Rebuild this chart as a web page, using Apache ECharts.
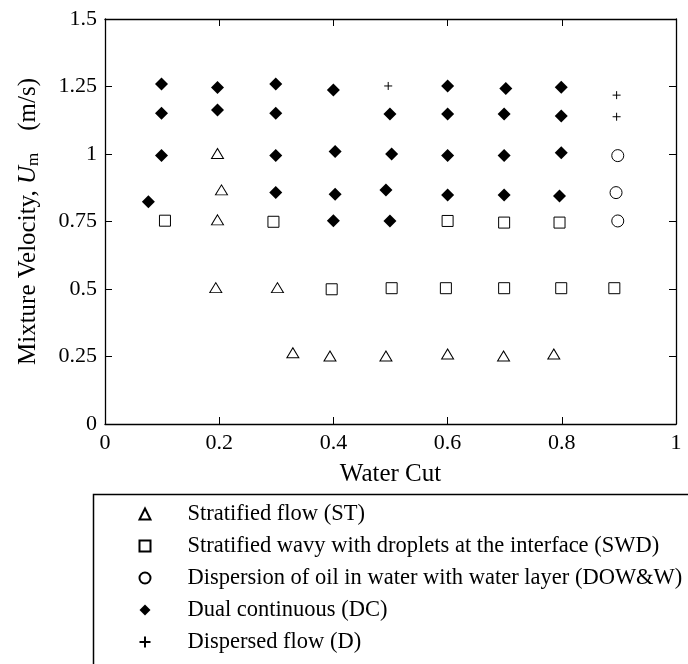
<!DOCTYPE html>
<html>
<head>
<meta charset="utf-8">
<title>Flow patterns vs water cut</title>
<script src="https://cdn.jsdelivr.net/npm/echarts@6/dist/echarts.min.js"></script>
<style>
  html, body { margin: 0; padding: 0; background: #fff; }
  #chart { width: 688px; height: 664px; }
</style>
</head>
<body>
<div id="chart"></div>
<script>
// ---------------- data ----------------
// each point: [water cut, mixture velocity (m/s)]

const stPoints = [ // Stratified flow
    [0.197, 1.002], [0.204, 0.867], [0.197, 0.756], [0.194, 0.505], [0.302, 0.505],
    [0.329, 0.264], [0.394, 0.252], [0.492, 0.252], [0.600, 0.259], [0.698, 0.252], [0.786, 0.259],
];

const swdPoints = [ // Stratified wavy with droplets
    [0.105, 0.753], [0.295, 0.749], [0.600, 0.752], [0.699, 0.746], [0.796, 0.746],
    [0.397, 0.499], [0.502, 0.503], [0.597, 0.503], [0.699, 0.503], [0.799, 0.503], [0.892, 0.503],
];

const dowwPoints = [ // Dispersion of oil in water with water layer
    [0.898, 0.994], [0.895, 0.857], [0.898, 0.752],
];

const dcPoints = [ // Dual continuous
    [0.099, 1.259], [0.197, 1.246], [0.299, 1.259], [0.400, 1.237], [0.600, 1.252], [0.702, 1.243], [0.799, 1.247],
    [0.099, 1.151], [0.197, 1.163], [0.299, 1.151], [0.499, 1.148], [0.600, 1.148], [0.699, 1.148], [0.799, 1.141],
    [0.099, 0.994], [0.299, 0.994], [0.403, 1.009], [0.502, 1.000], [0.600, 0.994], [0.699, 0.994], [0.799, 1.005],
    [0.076, 0.823], [0.299, 0.857], [0.403, 0.851], [0.492, 0.867], [0.600, 0.848], [0.699, 0.848], [0.796, 0.844],
    [0.400, 0.753], [0.499, 0.752],
];

const dPoints = [ // Dispersed flow
    [0.496, 1.252], [0.896, 1.218], [0.896, 1.138],
];

const seriesNames = [
    "Stratified flow (ST)",
    "Stratified wavy with droplets at the interface (SWD)",
    "Dispersion of oil in water with water layer (DOW&W)",
    "Dual continuous (DC)",
    "Dispersed flow (D)",
];

const xTicks = [0, 0.2, 0.4, 0.6, 0.8, 1];
const yTicks = [0, 0.25, 0.5, 0.75, 1, 1.25, 1.5];

// ---------------- styling ----------------

const FONT = "Liberation Serif";
const PLUS = "path://M0,5L10,5M5,0L5,10";

const openStyle = { color: "#fff", borderColor: "#000", borderWidth: 1, opacity: 1 };

function baseAxis(extra) {
    return Object.assign({
        axisLine: { show: true, onZero: false, lineStyle: { color: "#000", width: 1.3 } },
        axisTick: { show: true, inside: true, length: 7, lineStyle: { color: "#000", width: 1 } },
        splitLine: { show: false },
        axisLabel: { show: false },
    }, extra);
}

const tickLabel = {
    show: true, margin: 8, fontFamily: FONT, fontSize: 22, color: "#000",
    formatter: (v) => String(+v.toFixed(2)),
};

const chart = echarts.init(document.getElementById("chart"), null, { renderer: "canvas" });

chart.setOption({
    animation: false,
    backgroundColor: "#fff",
    textStyle: { fontFamily: FONT, color: "#000" },
    grid: { left: 105, right: 12, top: 19, bottom: 240, containLabel: false },

    xAxis: [
        baseAxis({
            type: "value",
            position: "bottom",
            min: xTicks[0],
            max: xTicks[xTicks.length - 1],
            interval: 0.2,
            name: "Water Cut",
            nameLocation: "middle",
            nameGap: 38,
            nameTextStyle: { fontFamily: FONT, fontSize: 25, color: "#000" },
            axisLabel: tickLabel,
        }),
        baseAxis({
            type: "value", position: "top",
            min: xTicks[0], max: xTicks[xTicks.length - 1], interval: 0.2,
        }),
    ],

    yAxis: [
        baseAxis({
            type: "value",
            position: "left",
            min: yTicks[0],
            max: yTicks[yTicks.length - 1],
            interval: 0.25,
            name: "{a|Mixture Velocity, }{i|U}{s|m}{p|(m/s)}",
            nameLocation: "middle",
            nameGap: 63,
            nameTextStyle: {
                fontFamily: FONT, fontSize: 25, color: "#000",
                rich: {
                    a: { fontFamily: FONT, fontSize: 25, color: "#000" },
                    i: { fontFamily: FONT, fontSize: 25, color: "#000", fontStyle: "italic" },
                    s: { fontFamily: FONT, fontSize: 17, color: "#000", padding: [10, 0, 0, 0] },
                    p: { fontFamily: FONT, fontSize: 25, color: "#000", padding: [0, 0, 0, 22] },
                },
            },
            axisLabel: tickLabel,
        }),
        baseAxis({
            type: "value", position: "right",
            min: yTicks[0], max: yTicks[yTicks.length - 1], interval: 0.25,
        }),
    ],

    legend: {
        orient: "vertical",
        left: 132,
        top: 497,
        itemWidth: 11,
        itemHeight: 11,
        itemGap: 8,
        selectedMode: false,
        textStyle: {
            fontFamily: FONT, fontSize: 22.5, color: "#000", lineHeight: 24,
            padding: [0, 0, 0, 32],
        },
        data: seriesNames,
    },

    graphic: [
        {
            type: "rect",
            left: 91,
            top: 492,
            shape: { width: 700, height: 300 },
            style: { fill: "none", stroke: "#000", lineWidth: 1.5 },
            silent: true,
        },
    ],

    series: [
        {
            name: seriesNames[0], type: "scatter", data: stPoints,
            symbol: "triangle", symbolSize: [12, 10], itemStyle: openStyle,
        },
        {
            name: seriesNames[1], type: "scatter", data: swdPoints,
            symbol: "rect", symbolSize: 11, itemStyle: openStyle,
        },
        {
            name: seriesNames[2], type: "scatter", data: dowwPoints,
            symbol: "circle", symbolSize: 12, itemStyle: openStyle,
        },
        {
            name: seriesNames[3], type: "scatter", data: dcPoints,
            symbol: "diamond", symbolSize: 13, itemStyle: { color: "#000", opacity: 1 },
        },
        {
            name: seriesNames[4], type: "scatter", data: dPoints,
            symbol: PLUS, symbolSize: 8,
            itemStyle: { color: "none", borderColor: "#000", borderWidth: 1, opacity: 1 },
        },
    ],
});
</script>
</body>
</html>
